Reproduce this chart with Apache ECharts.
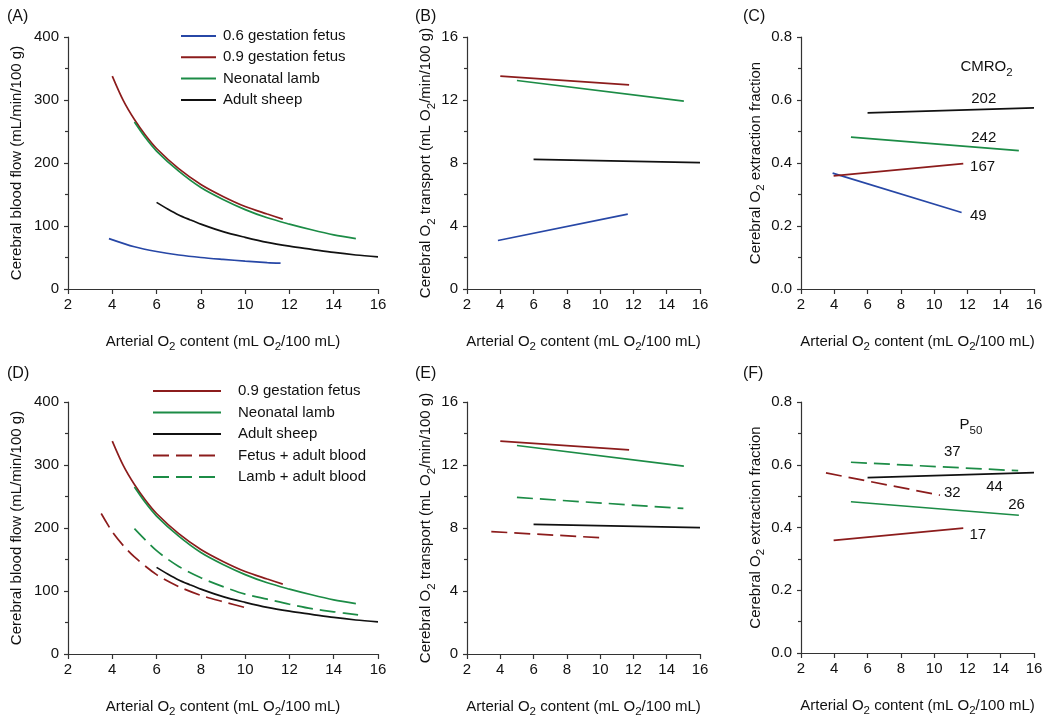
<!DOCTYPE html>
<html>
<head>
<meta charset="utf-8">
<script src="https://cdn.jsdelivr.net/npm/echarts@6/dist/echarts.min.js"></script>
<style>
html,body{margin:0;padding:0;background:#fff;}
#chart{width:1050px;height:719px;}
</style>
</head>
<body>
<div id="chart"></div>
<script>
// ---------- DATA ----------
// x axis ticks: arterial O2 content (mL O2/100 mL)
const xTicks = [2, 4, 6, 8, 10, 12, 14, 16];
const legendTop = ['0.6 gestation fetus', '0.9 gestation fetus', 'Neonatal lamb', 'Adult sheep'];
const legendBottom = ['0.9 gestation fetus', 'Neonatal lamb', 'Adult sheep', 'Fetus + adult blood', 'Lamb + adult blood'];
const panelLabels = ['(A)', '(B)', '(C)', '(D)', '(E)', '(F)'];

// Panels A / D: cerebral blood flow (mL/min/100 g)
const cbfFetus06 = [[3.85,80],[5,67],[6,59.5],[7,54],[8,50],[9,47],[10,44.3],[11,42],[11.6,41]];
const cbfFetus09 = [[4,338],[4.5,299],[5,269],[5.5,244],[6,223],[7,191],[8,166],[9,147],[10,131],[11,119],[11.7,111]];
const cbfLamb = [[5,265],[5.5,240],[6,219],[7,187],[8,161],[9,142],[10,126],[11,113],[12,103],[13,94],[14,86],[15,80]];
const cbfAdult = [[6,137.5],[6.5,127],[7,117.5],[7.5,110],[8,103],[9,91],[10,82],[11,74],[12,68],[13,63],[14,58],[15,54],[16,51]];
const cbfFetusAdultBlood = [[3.5,223],[4,194],[4.5,172],[5,154],[6,126],[7,107],[8,93],[9,83],[10.2,72]];
const cbfLambAdultBlood = [[5,199],[6,164],[7,139],[8,121],[9,107],[10,95],[11,87],[12,79],[13,72],[14,67],[15.1,62]];

// Panels B / E: cerebral O2 transport (mL O2/min/100 g)
const o2tFetus06 = [[3.86,3.08],[11.66,4.75]];
const o2tFetus09 = [[4.0,13.52],[11.74,12.96]];
const o2tLamb = [[5.0,13.24],[15.03,11.93]];
const o2tAdult = [[6.0,8.23],[16.0,8.02]];
const o2tFetusAdultBlood = [[3.46,7.77],[10.26,7.37]];
const o2tLambAdultBlood = [[5.0,9.94],[15.0,9.24]];

// Panels C / F: cerebral O2 extraction fraction
const oefFetus06 = [[3.9,0.368],[11.65,0.243]];
const oefFetus09 = [[3.96,0.359],[11.75,0.398]];
const oefLamb = [[5.0,0.482],[15.09,0.439]];
const oefAdult = [[6.0,0.559],[16.0,0.575]];
const oefFetusAdultBlood = [[3.5,0.574],[10.35,0.503]];
const oefLambAdultBlood = [[5.0,0.608],[15.05,0.581]];

// Annotations: [text, x, y]
const cmroLabels = [['202',12.98,0.604],['242',12.98,0.479],['167',12.91,0.387],['49',12.65,0.231]];
const cmroHeader = [['{a|CMRO}{s|2}',13.15,0.705]];
const p50Labels = [['37',11.09,0.641],['32',11.09,0.509],['44',13.63,0.530],['26',14.95,0.472],['17',12.62,0.376]];
const p50Header = [['{a|P}{s|50}',12.21,0.726]];

// ---------- STYLE ----------
const FONT = '"Liberation Sans", Arial, Helvetica, sans-serif';
const TXT = '#111111';
const AX = '#333333';
const C_BLUE = '#2747a6', C_RED = '#8c1c1c', C_GREEN = '#1c8c46', C_BLACK = '#111111';
const DASH = [16, 7];
const LW = 1.7;

const rich = {
  a: {fontSize: 15, verticalAlign: 'top', color: TXT, fontFamily: FONT},
  s: {fontSize: 11.5, verticalAlign: 'top', padding: [7, 0, 0, 0], color: TXT, fontFamily: FONT}
};

const grids = [
  {left: 68, top: 37, width: 310, height: 252},
  {left: 467, top: 37, width: 233, height: 252},
  {left: 801, top: 37, width: 233, height: 252},
  {left: 68, top: 402, width: 310, height: 252},
  {left: 467, top: 402, width: 233, height: 252},
  {left: 801, top: 402, width: 233, height: 251}
];

const xName = '{a|Arterial O}{s|2}{a| content (mL O}{s|2}{a|/100 mL)}';
function xAxis(i) {
  return {
    type: 'value', gridIndex: i, min: xTicks[0], max: xTicks[xTicks.length - 1], interval: xTicks[1] - xTicks[0],
    name: xName, nameLocation: 'middle', nameGap: 45,
    nameTextStyle: {rich: rich},
    axisLine: {show: true, lineStyle: {color: AX, width: 1.2}},
    axisTick: {show: true, length: 5, lineStyle: {color: AX, width: 1.2}},
    axisLabel: {fontSize: 15, color: TXT, fontFamily: FONT, margin: 8},
    splitLine: {show: false}
  };
}
function yAxis(i, max, interval, name, gap, dec) {
  return {
    type: 'value', gridIndex: i, min: 0, max: max, interval: interval,
    name: name, nameLocation: 'middle', nameGap: gap,
    nameTextStyle: {rich: rich},
    axisLine: {show: true, lineStyle: {color: AX, width: 1.2}},
    axisTick: {show: true, length: 4, lineStyle: {color: AX, width: 1.2}},
    minorTick: {show: true, splitNumber: 2, length: 3, lineStyle: {color: AX, width: 1.2}},
    axisLabel: {fontSize: 15, color: TXT, fontFamily: FONT, margin: 9,
      formatter: dec ? (v => v.toFixed(dec)) : (v => String(v))},
    splitLine: {show: false}, minorSplitLine: {show: false}
  };
}

function line(name, data, color, idx, dashed, smooth) {
  return {
    type: 'line', name: name, data: data, xAxisIndex: idx, yAxisIndex: idx,
    showSymbol: false, symbol: 'none', smooth: smooth ? 0.3 : false, silent: true,
    lineStyle: {color: color, width: LW, type: dashed ? DASH : 'solid'},
    itemStyle: {color: color}, animation: false, z: 3
  };
}
function labels(data, idx, offsetY) {
  return {
    type: 'scatter', xAxisIndex: idx, yAxisIndex: idx, symbolSize: 0, silent: true,
    itemStyle: {color: 'transparent', opacity: 1},
    data: data.map(d => ({value: [d[1], d[2]], text: d[0]})),
    label: {show: true, position: 'inside', offset: [0, offsetY || 0],
      formatter: p => p.data.text,
      fontSize: 15, color: TXT, fontFamily: FONT, rich: rich, opacity: 1,
      textBorderWidth: 0, textBorderColor: 'transparent'},
    animation: false, z: 4
  };
}

const series = [
  // A
  line('0.6 gestation fetus', cbfFetus06, C_BLUE, 0, false, true),
  line('0.9 gestation fetus', cbfFetus09, C_RED, 0, false, true),
  line('Neonatal lamb', cbfLamb, C_GREEN, 0, false, true),
  line('Adult sheep', cbfAdult, C_BLACK, 0, false, true),
  // B
  line('0.6 gestation fetus', o2tFetus06, C_BLUE, 1),
  line('0.9 gestation fetus', o2tFetus09, C_RED, 1),
  line('Neonatal lamb', o2tLamb, C_GREEN, 1),
  line('Adult sheep', o2tAdult, C_BLACK, 1),
  // C
  line('0.6 gestation fetus', oefFetus06, C_BLUE, 2),
  line('0.9 gestation fetus', oefFetus09, C_RED, 2),
  line('Neonatal lamb', oefLamb, C_GREEN, 2),
  line('Adult sheep', oefAdult, C_BLACK, 2),
  labels(cmroLabels, 2, 0),
  labels(cmroHeader, 2, 2),
  // D
  line('0.9 gestation fetus', cbfFetus09, C_RED, 3, false, true),
  line('Neonatal lamb', cbfLamb, C_GREEN, 3, false, true),
  line('Adult sheep', cbfAdult, C_BLACK, 3, false, true),
  line('Fetus + adult blood', cbfFetusAdultBlood, C_RED, 3, true, true),
  line('Lamb + adult blood', cbfLambAdultBlood, C_GREEN, 3, true, true),
  // E
  line('0.9 gestation fetus', o2tFetus09, C_RED, 4),
  line('Neonatal lamb', o2tLamb, C_GREEN, 4),
  line('Adult sheep', o2tAdult, C_BLACK, 4),
  line('Fetus + adult blood', o2tFetusAdultBlood, C_RED, 4, true),
  line('Lamb + adult blood', o2tLambAdultBlood, C_GREEN, 4, true),
  // F
  line('0.9 gestation fetus', oefFetus09, C_RED, 5),
  line('Neonatal lamb', oefLamb, C_GREEN, 5),
  line('Adult sheep', oefAdult, C_BLACK, 5),
  line('Fetus + adult blood', oefFetusAdultBlood, C_RED, 5, true),
  line('Lamb + adult blood', oefLambAdultBlood, C_GREEN, 5, true),
  labels(p50Labels, 5, 0),
  labels(p50Header, 5, 2)
];

const titlePos = [[7,9],[415,9],[743,9],[7,366],[415,366],[743,366]];

const legendCommon = {
  orient: 'vertical', padding: 0, itemHeight: 14, selectedMode: false,
  itemStyle: {opacity: 0, borderWidth: 0}
};

const option = {
  backgroundColor: '#ffffff',
  animation: false,
  title: panelLabels.map((t, i) => ({
    text: t, left: titlePos[i][0], top: titlePos[i][1], padding: 0,
    textStyle: {fontSize: 16, fontWeight: 'normal', color: TXT, fontFamily: FONT}
  })),
  grid: grids,
  xAxis: [0,1,2,3,4,5].map(xAxis),
  yAxis: [
    yAxis(0, 400, 100, 'Cerebral blood flow (mL/min/100 g)', 44),
    yAxis(1, 16, 4, '{a|Cerebral O}{s|2}{a| transport (mL O}{s|2}{a|/min/100 g)}', 27),
    yAxis(2, 0.8, 0.2, '{a|Cerebral O}{s|2}{a| extraction fraction}', 29, 1),
    yAxis(3, 400, 100, 'Cerebral blood flow (mL/min/100 g)', 44),
    yAxis(4, 16, 4, '{a|Cerebral O}{s|2}{a| transport (mL O}{s|2}{a|/min/100 g)}', 27),
    yAxis(5, 0.8, 0.2, '{a|Cerebral O}{s|2}{a| extraction fraction}', 29, 1)
  ].map(a => { if (a.name.indexOf('{') < 0) { a.nameTextStyle = {fontSize: 15, color: TXT, fontFamily: FONT}; } return a; }),
  legend: [
    Object.assign({data: legendTop, left: 180, top: 28, itemWidth: 35, itemGap: 5.3,
     textStyle: {fontSize: 15, color: TXT, fontFamily: FONT, lineHeight: 16, padding: [0,0,0,2]}}, legendCommon),
    Object.assign({data: legendBottom, left: 152, top: 383, itemWidth: 68, itemGap: 5.5,
     textStyle: {fontSize: 15, color: TXT, fontFamily: FONT, lineHeight: 16, padding: [0,0,0,12]}}, legendCommon)
  ],
  series: series
};

const chart = echarts.init(document.getElementById('chart'), null, {renderer: 'canvas'});
chart.setOption(option);
</script>
</body>
</html>
